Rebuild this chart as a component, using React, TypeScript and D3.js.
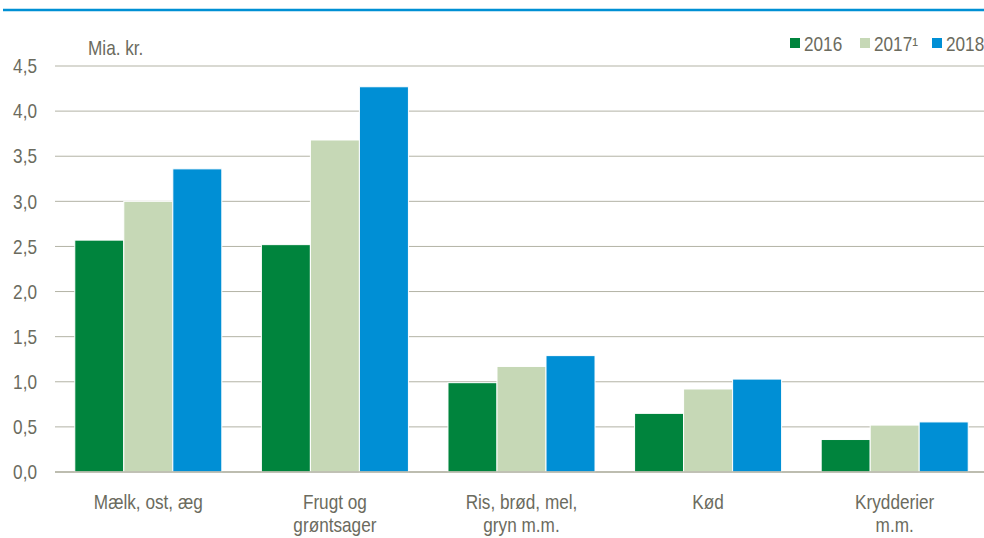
import React, { useEffect, useRef } from "react";
import * as d3 from "d3";

const categories = [
  ["Mælk, ost, æg"],
  ["Frugt og", "grøntsager"],
  ["Ris, brød, mel,", "gryn m.m."],
  ["Kød"],
  ["Krydderier", "m.m."],
];
const series = ["2016", "2017¹", "2018"];
const values2016 = [2.57, 2.52, 0.99, 0.65, 0.36];
const values2017 = [3.0, 3.68, 1.17, 0.92, 0.52];
const values2018 = [3.36, 4.27, 1.29, 1.03, 0.555];
const yTicks = [0, 0.5, 1, 1.5, 2, 2.5, 3, 3.5, 4, 4.5];

const colors = ["#00843d", "#c6d8b6", "#008fd5"];
const textColor = "#6b6b5e";
const gridColor = "#b3b3a5";
const font = "'Liberation Sans', Arial, sans-serif";
const squeeze = 0.86;

export default function App() {
  const ref = useRef<SVGSVGElement | null>(null);

  useEffect(() => {
    const svg = d3.select(ref.current);
    svg.selectAll("*").remove();

    const W = 984;
    const H = 538;
    const left = 55;
    const top = 66;
    const bottom = 472;

    svg.attr("width", W).attr("height", H);

    // narrow text: translate then squeeze horizontally
    const place = (x: number, y: number) => `translate(${x},${y}) scale(${squeeze},1)`;

    // blue rule at top
    svg.append("line").attr("x1", 3).attr("x2", W).attr("y1", 10).attr("y2", 10)
      .attr("stroke", "#0090d4").attr("stroke-width", 2.5);

    const y = d3.scaleLinear().domain([0, 4.5]).range([bottom, top]);
    const x0 = d3.scaleBand<number>()
      .domain(d3.range(categories.length))
      .range([left, 988])
      .paddingInner(0.212)
      .paddingOuter(0.106);
    const x1 = d3.scaleBand<number>().domain([0, 1, 2]).range([0, x0.bandwidth()]);

    // grid
    svg.append("g").selectAll("line").data(yTicks).join("line")
      .attr("x1", left).attr("x2", W)
      .attr("y1", (d) => y(d)).attr("y2", (d) => y(d))
      .attr("stroke", gridColor).attr("stroke-width", 1);

    // y tick labels
    svg.append("g").selectAll("text").data(yTicks).join("text")
      .attr("transform", (d) => place(37, y(d)))
      .attr("dy", "0.36em")
      .attr("text-anchor", "end")
      .attr("font-family", font).attr("font-size", 20).attr("fill", textColor)
      .text((d) => d.toFixed(1).replace(".", ","));

    // bars
    const all = [values2016, values2017, values2018];
    all.forEach((vals, si) => {
      svg.append("g").selectAll("rect").data(vals).join("rect")
        .attr("x", (_, i) => (x0(i) ?? 0) + (x1(si) ?? 0))
        .attr("y", (d) => y(d))
        .attr("width", x1.bandwidth())
        .attr("height", (d) => bottom - y(d))
        .attr("fill", colors[si])
        .attr("stroke", "#ffffff").attr("stroke-width", 1);
    });

    // baseline
    svg.append("line").attr("x1", left).attr("x2", W).attr("y1", bottom).attr("y2", bottom)
      .attr("stroke", gridColor).attr("stroke-width", 1.5);

    // category labels
    const cat = svg.append("g").selectAll("text").data(categories).join("text")
      .attr("transform", (_, i) => place((x0(i) ?? 0) + x0.bandwidth() / 2, 509))
      .attr("text-anchor", "middle")
      .attr("font-family", font).attr("font-size", 20).attr("fill", textColor);
    cat.selectAll("tspan").data((d) => d).join("tspan")
      .attr("x", 0)
      .attr("dy", (_, j) => (j === 0 ? 0 : 23))
      .text((d) => d);

    // unit label
    svg.append("text").attr("transform", place(88, 55))
      .attr("font-family", font).attr("font-size", 20).attr("fill", textColor)
      .text("Mia. kr.");

    // legend
    const legendX = [790, 860, 932];
    series.forEach((s, i) => {
      svg.append("rect").attr("x", legendX[i]).attr("y", 38).attr("width", 10).attr("height", 10)
        .attr("fill", colors[i]);
      svg.append("text").attr("transform", place(legendX[i] + 14, 51))
        .attr("font-family", font).attr("font-size", 20).attr("fill", textColor)
        .text(s);
    });
  }, []);

  return (
    <svg ref={ref} style={{ position: "absolute", left: 0, top: 0, background: "#fff" }}></svg>
  );
}
